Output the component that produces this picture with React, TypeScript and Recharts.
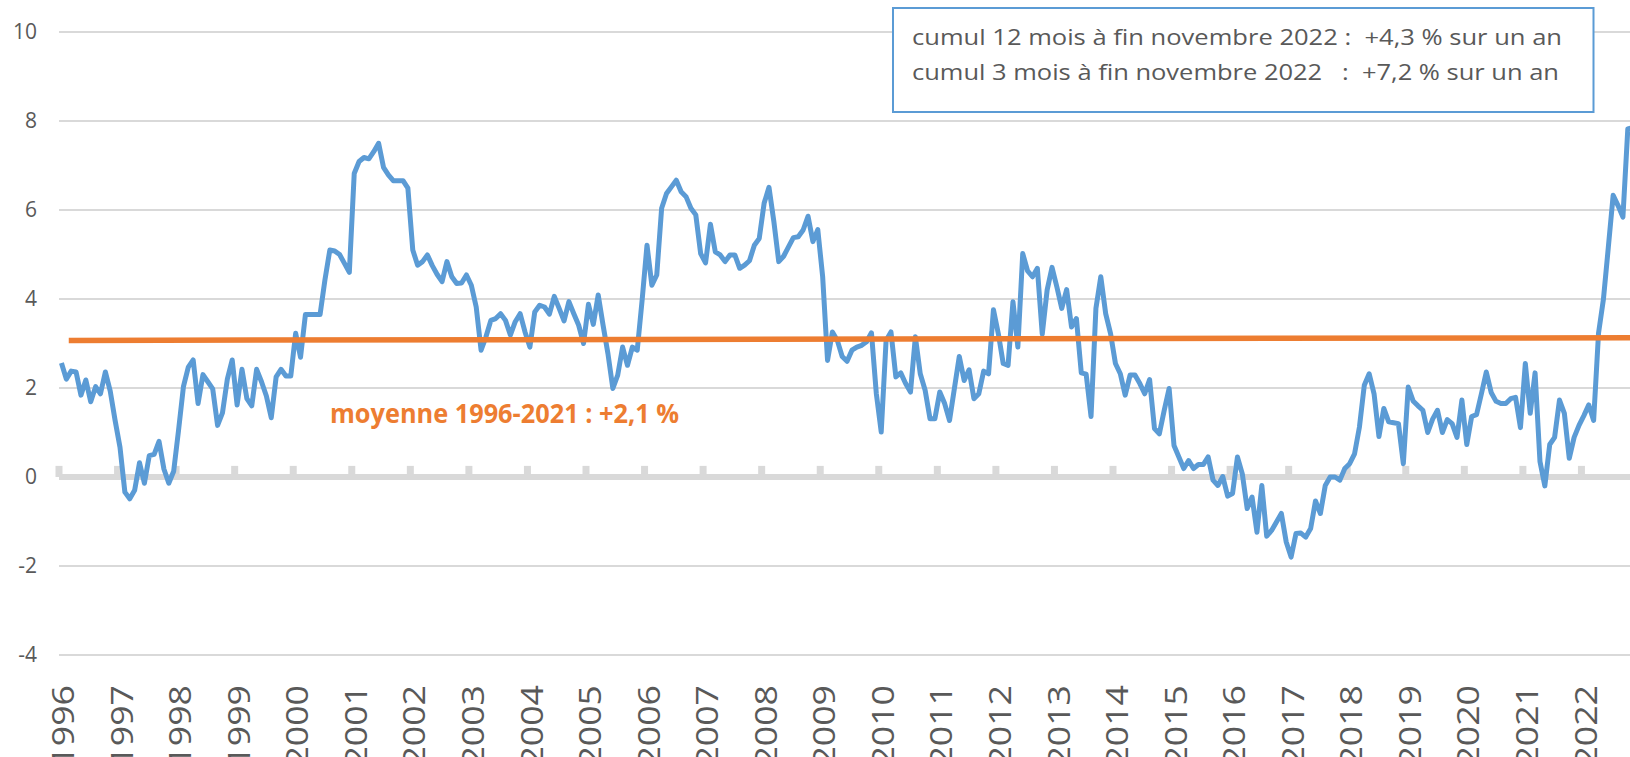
import React from 'react';
import { ComposedChart, Line, XAxis, YAxis, CartesianGrid, ReferenceLine } from 'recharts';

// Monthly values (%), January 1996 – November 2022
const v1996 = [2.56, 2.2, 2.38, 2.36, 1.84, 2.18, 1.69, 2.03, 1.87, 2.36, 1.93, 1.27];
const v1997 = [0.67, -0.34, -0.49, -0.3, 0.32, -0.14, 0.48, 0.51, 0.8, 0.18, -0.14, 0.13];
const v1998 = [1.05, 2.03, 2.47, 2.63, 1.65, 2.3, 2.14, 1.98, 1.16, 1.44, 2.2, 2.63];
const v1999 = [1.62, 2.42, 1.76, 1.6, 2.42, 2.14, 1.82, 1.33, 2.25, 2.42, 2.27, 2.27];
const v2000 = [3.23, 2.69, 3.65, 3.65, 3.65, 3.65, 4.43, 5.1, 5.08, 5.0, 4.8, 4.6];
const v2001 = [6.82, 7.09, 7.18, 7.15, 7.31, 7.5, 6.96, 6.79, 6.66, 6.66, 6.66, 6.49];
const v2002 = [5.1, 4.76, 4.84, 4.99, 4.75, 4.55, 4.39, 4.84, 4.5, 4.35, 4.36, 4.54];
const v2003 = [4.31, 3.82, 2.85, 3.15, 3.52, 3.56, 3.67, 3.52, 3.19, 3.49, 3.67, 3.26];
const v2004 = [2.92, 3.71, 3.86, 3.82, 3.66, 4.06, 3.79, 3.51, 3.94, 3.67, 3.41, 3.0];
const v2005 = [3.88, 3.43, 4.09, 3.41, 2.77, 1.99, 2.29, 2.92, 2.51, 2.92, 2.85, 3.97];
const v2006 = [5.21, 4.31, 4.54, 6.04, 6.37, 6.52, 6.67, 6.41, 6.3, 6.04, 5.89, 5.02];
const v2007 = [4.81, 5.68, 5.06, 4.99, 4.84, 4.99, 4.99, 4.69, 4.76, 4.86, 5.21, 5.36];
const v2008 = [6.15, 6.51, 5.74, 4.84, 4.96, 5.17, 5.38, 5.4, 5.55, 5.86, 5.29, 5.56];
const v2009 = [4.5, 2.62, 3.26, 3.07, 2.71, 2.6, 2.85, 2.92, 2.96, 3.04, 3.24, 1.87];
const v2010 = [1.01, 3.07, 3.26, 2.25, 2.34, 2.1, 1.91, 3.15, 2.32, 1.95, 1.31, 1.31];
const v2011 = [1.91, 1.65, 1.27, 1.99, 2.71, 2.17, 2.41, 1.76, 1.87, 2.38, 2.32, 3.76];
const v2012 = [3.22, 2.55, 2.51, 3.94, 2.92, 5.02, 4.63, 4.5, 4.69, 3.21, 4.2, 4.71];
const v2013 = [4.27, 3.79, 4.21, 3.37, 3.56, 2.34, 2.31, 1.36, 3.79, 4.5, 3.67, 3.22];
const v2014 = [2.55, 2.32, 1.84, 2.29, 2.29, 2.1, 1.87, 2.19, 1.09, 0.97, 1.5, 1.99];
const v2015 = [0.71, 0.45, 0.19, 0.37, 0.19, 0.28, 0.28, 0.45, -0.07, -0.19, 0.01, -0.43];
const v2016 = [-0.37, 0.45, 0.07, -0.71, -0.45, -1.24, -0.19, -1.33, -1.2, -1.01, -0.82, -1.46];
const v2017 = [-1.8, -1.27, -1.26, -1.35, -1.16, -0.54, -0.82, -0.19, 0, 0, -0.07, 0.19];
const v2018 = [0.3, 0.52, 1.12, 2.06, 2.32, 1.87, 0.91, 1.54, 1.24, 1.22, 1.2, 0.3];
const v2019 = [2.02, 1.71, 1.6, 1.5, 1.0, 1.3, 1.5, 1.0, 1.29, 1.2, 0.89, 1.73];
const v2020 = [0.73, 1.36, 1.4, 1.87, 2.36, 1.9, 1.7, 1.65, 1.65, 1.76, 1.79, 1.11];
const v2021 = [2.55, 1.43, 2.34, 0.35, -0.2, 0.73, 0.89, 1.73, 1.43, 0.42, 0.89, 1.16];
const v2022 = [1.38, 1.62, 1.27, 3.23, 3.99, 5.15, 6.33, 6.1, 5.84, 7.82, 7.85];

const yearLabels = [
  '1996', '1997', '1998', '1999', '2000', '2001', '2002', '2003', '2004', '2005',
  '2006', '2007', '2008', '2009', '2010', '2011', '2012', '2013', '2014', '2015',
  '2016', '2017', '2018', '2019', '2020', '2021', '2022',
];
const yTicks = [-4, -2, 0, 2, 4, 6, 8, 10];

// Average line (drawn slightly sloped in the source)
const averageStartValue = 3.07;
const averageEndValue = 3.13;
const averageLabel = 'moyenne 1996-2021 : +2,1 %';
const boxLines = [
  'cumul 12 mois à fin novembre 2022 :  +4,3 % sur un an',
  'cumul 3 mois à fin novembre 2022   :  +7,2 % sur un an',
];

const monthly = [
  ...v1996, ...v1997, ...v1998, ...v1999, ...v2000, ...v2001, ...v2002, ...v2003, ...v2004,
  ...v2005, ...v2006, ...v2007, ...v2008, ...v2009, ...v2010, ...v2011, ...v2012, ...v2013,
  ...v2014, ...v2015, ...v2016, ...v2017, ...v2018, ...v2019, ...v2020, ...v2021, ...v2022,
];
const data = monthly.map((v, i) => ({ x: i + 0.5, v }));
const yearTicks = yearLabels.map((_, k) => k * 12);
const xMax = yearLabels.length * 12;

const GRAY = '#595959';
const FONT = "'Open Sans', 'Noto Sans', sans-serif";

function YearTick(props: any) {
  const { x, y, payload } = props;
  const label = yearLabels[Math.round(payload.value / 12)];
  return (
    <text
      transform={`translate(${x + 4},${y + 22}) rotate(-90) scale(1.15,1)`}
      textAnchor="end"
      dy="0.36em"
      fontSize={31}
      fill={GRAY}
      fontFamily={FONT}
    >
      {label}
    </text>
  );
}

export default function App() {
  return (
    <div style={{ position: 'absolute', left: 0, top: 0, width: 1630, height: 757, overflow: 'hidden', background: '#fff' }}>
      <ComposedChart
        width={1640}
        height={757}
        data={data}
        margin={{ top: 32, right: 0, bottom: 0, left: 0 }}
      >
        <CartesianGrid horizontal vertical={false} stroke="#D9D9D9" strokeWidth={2} />
        <XAxis
          type="number"
          dataKey="x"
          domain={[0, xMax]}
          ticks={yearTicks}
          interval={0}
          tick={<YearTick />}
          tickLine={false}
          axisLine={false}
          height={102}
          allowDataOverflow
        />
        <YAxis
          type="number"
          domain={[-4, 10]}
          ticks={yTicks}
          interval={0}
          width={59}
          axisLine={false}
          tickLine={false}
          tickSize={0}
          tickMargin={22}
          tick={{ fontSize: 21, fill: GRAY, fontFamily: FONT }}
        />
        <ReferenceLine y={0} stroke="#D9D9D9" strokeWidth={6} />
        {yearTicks.map((t) => (
          <ReferenceLine
            key={t}
            segment={[{ x: t, y: 0 }, { x: t, y: 0.25 }]}
            stroke="#D9D9D9"
            strokeWidth={7}
          />
        ))}
        <Line
          type="linear"
          dataKey="v"
          stroke="#5B9BD5"
          strokeWidth={5}
          dot={false}
          activeDot={false}
          strokeLinejoin="round"
          isAnimationActive={false}
        />
        <ReferenceLine
          segment={[{ x: 2, y: averageStartValue }, { x: xMax, y: averageEndValue }]}
          stroke="#ED7D31"
          strokeWidth={5.5}
        />
      </ComposedChart>
      <svg
        width={1630}
        height={757}
        style={{ position: 'absolute', left: 0, top: 0, pointerEvents: 'none' }}
      >
        <rect x={893} y={8} width={700.5} height={104} fill="#fff" stroke="#5B9BD5" strokeWidth={2} />
        <text
          x={912}
          y={45}
          fontSize={22.5}
          fill={GRAY}
          fontFamily={FONT}
          textLength={650}
          lengthAdjust="spacingAndGlyphs"
          style={{ whiteSpace: 'pre' }}
        >
          {boxLines[0]}
        </text>
        <text
          x={912}
          y={80}
          fontSize={22.5}
          fill={GRAY}
          fontFamily={FONT}
          textLength={647}
          lengthAdjust="spacingAndGlyphs"
          style={{ whiteSpace: 'pre' }}
        >
          {boxLines[1]}
        </text>
        <text
          x={330}
          y={423}
          fontSize={26}
          fontWeight="bold"
          fill="#ED7D31"
          fontFamily={FONT}
          textLength={349}
          lengthAdjust="spacingAndGlyphs"
        >
          {averageLabel}
        </text>
      </svg>
    </div>
  );
}
